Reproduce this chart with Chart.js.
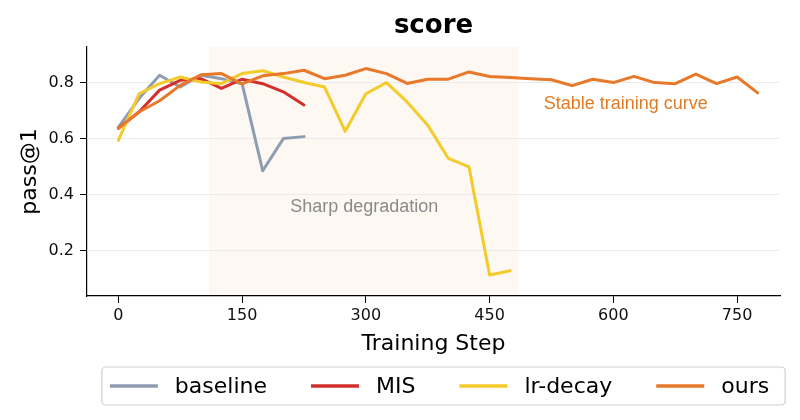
<!DOCTYPE html>
<html><head><meta charset="utf-8">
<script src="https://cdn.jsdelivr.net/npm/chart.js@4.4.1/dist/chart.umd.min.js"></script>
<style>html,body{margin:0;padding:0;background:#fff;}#wrap{width:800px;height:420px;}</style>
</head><body><div id="wrap"><canvas id="c" width="800" height="420"></canvas></div>
<script>
const chartTitle = 'score';
const xAxisTitle = 'Training Step';
const yAxisTitle = 'pass@1';
const seriesNames = ['baseline', 'MIS', 'lr-decay', 'ours'];
const seriesColors = ['#8f9db3', '#d3302c', '#f3cb2b', '#e8782a'];

const stepsBaseline = [0, 25, 50, 75, 100, 125, 150, 175, 200, 225];
const baselineValues = [0.640, 0.743, 0.826, 0.784, 0.826, 0.814, 0.796, 0.485, 0.600, 0.607];

const stepsMIS = [0, 25, 50, 75, 100, 125, 150, 175, 200, 225];
const misValues = [0.637, 0.695, 0.773, 0.808, 0.814, 0.779, 0.812, 0.796, 0.767, 0.720];

const stepsLrDecay = [0, 25, 50, 75, 100, 125, 150, 175, 200, 225, 250, 275, 300, 325, 350, 375, 400, 425, 450, 475];
const lrDecayValues = [0.594, 0.760, 0.796, 0.820, 0.802, 0.796, 0.832, 0.842, 0.820, 0.800, 0.784, 0.626, 0.760, 0.800, 0.731, 0.648, 0.529, 0.499, 0.113, 0.128];

const stepsOurs = [0, 25, 50, 75, 100, 125, 150, 175, 200, 225, 250, 275, 300, 325, 350, 375, 400, 425, 450, 475, 500, 525, 550, 575, 600, 625, 650, 675, 700, 725, 750, 775];
const oursValues = [0.637, 0.695, 0.735, 0.790, 0.828, 0.832, 0.795, 0.824, 0.832, 0.844, 0.814, 0.826, 0.850, 0.832, 0.797, 0.812, 0.812, 0.838, 0.822, 0.818, 0.814, 0.810, 0.789, 0.812, 0.800, 0.822, 0.800, 0.796, 0.830, 0.796, 0.820, 0.763];

const xTicks = [0, 150, 300, 450, 600, 750];
const yTicks = [0.2, 0.4, 0.6, 0.8];
const xRange = [-38, 802];
const yRange = [0.038, 0.927];
const shadeRange = [110, 485];
const annotationTexts = ['Sharp degradation', 'Stable training curve'];
const annotationX = [298, 615];
const annotationY = [0.355, 0.723];
const annotationColors = ['#8a8a8a', '#e07b25'];

Chart.defaults.font.family = 'DejaVu Sans';

function pts(xs, ys) { return xs.map((s, i) => ({ x: s, y: ys[i] })); }

const decor = {
  id: 'decor',
  beforeDraw(chart) {
    const { ctx, chartArea: a, scales: { x } } = chart;
    const x0 = x.getPixelForValue(shadeRange[0]);
    const x1 = x.getPixelForValue(shadeRange[1]);
    ctx.save();
    ctx.fillStyle = '#fef8f2';
    ctx.fillRect(x0, a.top, x1 - x0, a.bottom - a.top);
    ctx.restore();
  },
  afterDatasetsDraw(chart) {
    const { ctx, scales: { x, y } } = chart;
    ctx.save();
    ctx.font = '18px "Liberation Sans", Arial, sans-serif';
    ctx.textAlign = 'center';
    ctx.textBaseline = 'middle';
    annotationTexts.forEach((t, i) => {
      ctx.fillStyle = annotationColors[i];
      ctx.fillText(t, x.getPixelForValue(annotationX[i]), y.getPixelForValue(annotationY[i]));
    });
    ctx.restore();
  },
  afterDraw(chart) {
    const { ctx, chartArea: a } = chart;
    ctx.save();
    ctx.fillStyle = '#000';
    ctx.font = 'bold 26px "DejaVu Sans"';
    ctx.textAlign = 'center';
    ctx.textBaseline = 'middle';
    ctx.fillText(chartTitle, (a.left + a.right) / 2, 26);
    ctx.font = '22px "DejaVu Sans"';
    const lineW = 48, gapText = 17, gapItem = 44;
    const widths = seriesNames.map(n => ctx.measureText(n).width);
    let content = 0;
    widths.forEach((w, i) => { content += lineW + gapText + w + (i < widths.length - 1 ? gapItem : 0); });
    const cx = (a.left + chart.width) / 2;
    const boxW = content + 24, boxTop = 367, boxH = 38;
    const bx = cx - boxW / 2;
    ctx.beginPath();
    ctx.roundRect(bx, boxTop, boxW, boxH, 4);
    ctx.fillStyle = '#fff';
    ctx.fill();
    ctx.strokeStyle = '#cfcfcf';
    ctx.lineWidth = 1.2;
    ctx.stroke();
    let px = bx + 8;
    const my = boxTop + boxH / 2;
    ctx.textAlign = 'left';
    seriesNames.forEach((n, i) => {
      ctx.beginPath();
      ctx.strokeStyle = seriesColors[i];
      ctx.lineWidth = 3.5;
      ctx.moveTo(px, my);
      ctx.lineTo(px + lineW, my);
      ctx.stroke();
      ctx.fillStyle = '#000';
      ctx.fillText(n, px + lineW + gapText, my + 1);
      px += lineW + gapText + widths[i] + gapItem;
    });
    ctx.restore();
  }
};

new Chart(document.getElementById('c'), {
  type: 'line',
  data: {
    datasets: [
      { label: seriesNames[0], data: pts(stepsBaseline, baselineValues), borderColor: seriesColors[0], order: 3 },
      { label: seriesNames[1], data: pts(stepsMIS, misValues), borderColor: seriesColors[1], order: 2 },
      { label: seriesNames[2], data: pts(stepsLrDecay, lrDecayValues), borderColor: seriesColors[2], order: 1 },
      { label: seriesNames[3], data: pts(stepsOurs, oursValues), borderColor: seriesColors[3], order: 0 }
    ]
  },
  options: {
    responsive: false,
    animation: false,
    devicePixelRatio: 1,
    layout: { padding: { top: 47, right: 20, bottom: 63, left: 17 } },
    elements: {
      point: { radius: 0, hoverRadius: 0 },
      line: { borderWidth: 3, tension: 0, fill: false, borderJoinStyle: 'round', borderCapStyle: 'round' }
    },
    plugins: { legend: { display: false }, title: { display: false }, tooltip: { enabled: false } },
    scales: {
      x: {
        type: 'linear', min: xRange[0], max: xRange[1],
        afterBuildTicks: s => { s.ticks = xTicks.map(v => ({ value: v })); },
        afterFit: s => { s.height = 61; },
        grid: { drawOnChartArea: false, tickLength: 7, tickColor: '#000', tickWidth: 1 },
        border: { color: '#000', width: 1.2 },
        ticks: { color: '#111', font: { size: 16 }, padding: 3, maxRotation: 0, autoSkip: false },
        title: { display: true, text: xAxisTitle, color: '#000', font: { size: 22 }, padding: 0 }
      },
      y: {
        type: 'linear', min: yRange[0], max: yRange[1],
        afterBuildTicks: s => { s.ticks = yTicks.map(v => ({ value: v })); },
        afterFit: s => { s.width = 70; },
        grid: { color: '#ebebeb', lineWidth: 1, tickLength: 7, tickColor: '#000' },
        border: { color: '#000', width: 1.2 },
        ticks: { color: '#111', font: { size: 16 }, padding: 6, callback: v => v.toFixed(1) },
        title: { display: true, text: yAxisTitle, color: '#000', font: { size: 22 }, padding: 0 }
      }
    }
  },
  plugins: [decor]
});
</script>
</body></html>
